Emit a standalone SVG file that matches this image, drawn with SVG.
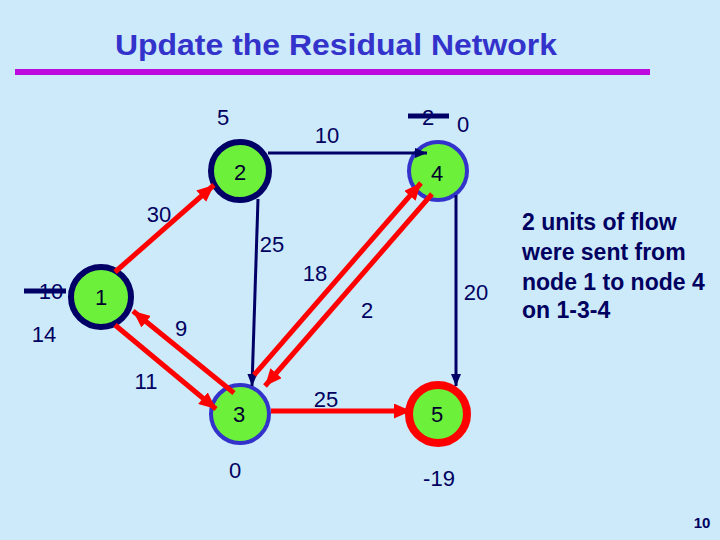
<svg xmlns="http://www.w3.org/2000/svg" width="720" height="540" viewBox="0 0 720 540">
<style>
.t{font-family:"Liberation Sans",Arial,sans-serif;fill:#000060;font-size:22px;text-anchor:middle}
.nl{font-family:"Liberation Sans",Arial,sans-serif;fill:#00002E;font-size:22px;text-anchor:middle}
.side{font-family:"Liberation Sans",Arial,sans-serif;fill:#000060;font-size:23px;font-weight:bold}
.node{fill:#6CF03A}
.dark{stroke:#000066;stroke-width:6}
.blue{stroke:#3333CC;stroke-width:4}
.redn{stroke:#FF0000;stroke-width:8}
.red{stroke:#FF0000;stroke-width:5;fill:none;marker-end:url(#ar)}
.nav{stroke:#000066;stroke-width:3;fill:none;marker-end:url(#an)}
.strike{stroke:#000066;stroke-width:5}
</style>
<defs>
<marker id="ar" markerUnits="userSpaceOnUse" viewBox="0 0 17 15" refX="17" refY="7.5" markerWidth="17" markerHeight="15" orient="auto"><path d="M0,0 L17,7.5 L0,15 Z" fill="#FF0000"/></marker>
<marker id="an" markerUnits="userSpaceOnUse" viewBox="0 0 12 10" refX="12" refY="5" markerWidth="12" markerHeight="10" orient="auto"><path d="M0,0 L12,5 L0,10 Z" fill="#000066"/></marker>
</defs>
<rect width="720" height="540" fill="#CCEAFA"/>
<text x="336" y="55" font-family="Liberation Sans,Arial,sans-serif" font-weight="bold" font-size="30" fill="#3333CC" text-anchor="middle" textLength="442" lengthAdjust="spacingAndGlyphs">Update the Residual Network</text>
<rect x="15" y="69" width="635" height="6" fill="#BB0CDD"/>

<g id="node1"><circle class="node dark" cx="101" cy="297" r="30"/><text class="nl" x="101" y="305">1</text></g>
<g id="node2"><circle class="node dark" cx="240" cy="171" r="29"/><text class="nl" x="240" y="180">2</text></g>
<g id="node3"><circle class="node blue" cx="240" cy="414" r="29"/><text class="nl" x="239" y="422">3</text></g>
<g id="node4"><circle class="node blue" cx="438" cy="171" r="29"/><text class="nl" x="437" y="181">4</text></g>
<g id="node5"><circle class="node redn" cx="438" cy="414" r="29"/><text class="nl" x="437" y="422">5</text></g>

<g id="connectors">
<path class="nav" d="M268,153 L427,153"/>
<path class="nav" d="M258,199 L252,386"/>
<path class="nav" d="M456,195 L456,386"/>
<path class="red" d="M115,272 L214,185"/>
<path class="red" d="M234,393 L133,311"/>
<path class="red" d="M115,325 L216,409"/>
<path class="red" d="M254,375 L421,183"/>
<path class="red" d="M432,194 L265,386"/>
<path class="red" d="M271,411 L411,411"/>
</g>

<g id="labels">
<text class="t" x="223" y="125">5</text>
<text class="t" x="327" y="143">10</text>
<text class="t" x="428" y="125">2</text>
<line class="strike" x1="408" y1="116" x2="449" y2="116"/>
<text class="t" x="463" y="132">0</text>
<text class="t" x="159" y="222">30</text>
<text class="t" x="272" y="252">25</text>
<text class="t" x="51" y="299">10</text>
<line class="strike" x1="24" y1="291" x2="66" y2="291"/>
<text class="t" x="44" y="342">14</text>
<text class="t" x="181" y="336">9</text>
<text class="t" x="146" y="389">11</text>
<text class="t" x="235" y="478">0</text>
<text class="t" x="315" y="281">18</text>
<text class="t" x="367" y="318">2</text>
<text class="t" x="476" y="300">20</text>
<text class="t" x="326" y="407">25</text>
<text class="t" x="439" y="486">-19</text>
<text class="side" x="522" y="230">2 units of flow</text>
<text class="side" x="522" y="260">were sent from</text>
<text class="side" x="522" y="290">node 1 to node 4</text>
<text class="side" x="522" y="318">on 1-3-4</text>
<text x="702" y="528" font-family="Liberation Sans,Arial,sans-serif" font-weight="bold" font-size="15" fill="#000060" text-anchor="middle">10</text>
</g>
</svg>
